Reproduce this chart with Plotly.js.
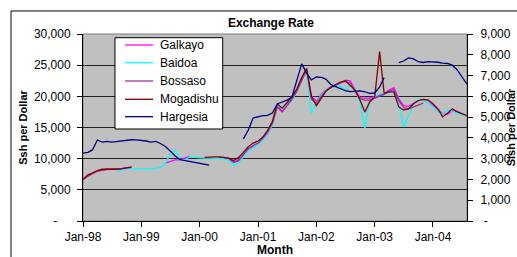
<!DOCTYPE html>
<html><head><meta charset="utf-8">
<script src="https://cdn.plot.ly/plotly-3.0.1.min.js"></script>
<style>html,body{margin:0;padding:0;background:#fff;overflow:hidden}#chart{width:517px;height:257px}</style>
</head><body><div id="chart"></div>
<script>
// month categories Jan-98 .. Aug-04
const months = [];
for (let i = 0; i < 80; i++) {
  const yr = 1998 + Math.floor(i / 12), mo = (i % 12) + 1;
  months.push(yr + '-' + String(mo).padStart(2, '0') + '-01');
}
const N = null;
const galkayo = [6800,7300,7700,8000,8200,8300,8300,8300,8400,8500,8600,
  N,N,N,N,N,N,
  9300,9600,9800,9800,10100,10400,
  N,N,N,N,N,
  10200,10200,10100,9500,9600,10500,11400,11900,12300,13100,14000,15500,18500,17600,18600,19600,21000,22800,24000,20000,19200,20300,21000,21500,21800,22100,22600,22500,21000,19800,19700,19700,20000,20200,20400,21000,21400,19600,18500,18400,18800,19300,19500,19400,18600,17800,17200,17100,17700,17600,17200,16800];
const baidoa = [N,N,N,N,N,N,N,
  7900,8200,8400,8400,8400,8400,8400,8400,8400,8600,9300,10700,11300,9800,9800,10300,10200,10100,10100,10100,10100,10100,10000,9700,9000,9300,10300,11300,11800,12300,13000,14000,15400,18500,18200,18500,19300,21000,22500,24200,17300,19000,20200,21000,21400,21400,21800,20800,22000,21000,19000,14900,19200,19900,20400,20500,20500,21000,18900,15100,17000,18600,19500,19300,18900,18300,17500,17100,17800,17600,17300,17000,16900];
const bossaso = [6700,7200,7600,8000,8200,8300,8300,8300,8400,8500,8600,
  N,N,N,N,N,N,N,N,N,N,N,N,N,N,N,N,N,
  10200,10200,10000,9400,9800,10700,11600,12100,12500,13300,14200,15700,18300,17500,18400,19500,20800,22500,24300,19500,18900,20000,20900,21500,21900,22200,22400,22100,20800,19600,19400,19400,19700,20000,20300,20800,21100,19300,18200,18000,18300,18700,18900,
  N,N,N,N,N,N,N,N,N];
const mogadishu = [6600,7400,7700,8100,8300,8300,8200,8300,8400,8500,8700,
  N,N,N,N,N,N,N,N,N,N,N,N,N,N,
  10200,10300,10300,10300,10200,10100,9700,10200,11000,11900,12500,12800,13500,14500,16000,18800,18100,18900,19900,21200,23000,24500,20000,18500,19800,20800,21400,21900,22300,22500,21800,21000,19400,17500,19100,19900,27200,20500,20700,20700,18300,17800,18000,18800,19300,19500,19400,18800,18000,16700,17300,18000,17500,17200,16900];
// Hargesia on the right axis (Slsh per Dollar)
const hargesia = [3270,3300,3420,3900,3800,3830,3800,3830,3850,3870,3910,3900,3890,3850,3800,3830,3730,3590,3370,3130,2950,2910,2860,2810,2780,2740,2690,
  N,N,N,N,N,N,
  3950,4380,4960,5030,5070,5080,5200,5630,5740,5820,5970,6780,7560,7120,6790,6930,6910,6830,6570,6470,6380,6270,6230,6230,6260,6220,6140,6160,6450,6900,
  N,N,
  7620,7700,7850,7800,7670,7630,7670,7670,7640,7600,7580,7500,7270,6930,6590];

const seriesNames = ['Galkayo','Baidoa','Bossaso','Mogadishu','Hargesia'];
const seriesColors = ['#FF00FF','#00FFFF','#993399','#800000','#000080'];
const seriesData = [galkayo, baidoa, bossaso, mogadishu, hargesia];

const leftTicks = [0,5000,10000,15000,20000,25000,30000];
const leftTickText = ['-\u00a0\u00a0\u00a0\u00a0','5,000','10,000','15,000','20,000','25,000','30,000'];
const rightTicks = [0,1000,2000,3000,4000,5000,6000,7000,8000,9000];
const rightTickText = ['\u00a0-','1,000','2,000','3,000','4,000','5,000','6,000','7,000','8,000','9,000'];
const yearTicks = ['1998-01-01','1999-01-01','2000-01-01','2001-01-01','2002-01-01','2003-01-01','2004-01-01'];
const yearLabels = ['Jan-98','Jan-99','Jan-00','Jan-01','Jan-02','Jan-03','Jan-04'];

const traces = seriesNames.map((n, i) => ({
  x: months, y: seriesData[i], type: 'scatter', mode: 'lines', name: n,
  yaxis: n === 'Hargesia' ? 'y2' : 'y', showlegend: false,
  line: {color: seriesColors[i], width: 1.3}, connectgaps: false
}));

// legend box (Excel-style), placed in paper coordinates
const legendRows = [0.9412, 0.8465, 0.7487, 0.6508, 0.5578];
const legendShapes = [{type: 'rect', xref: 'paper', yref: 'paper', x0: 0.0833, x1: 0.3638, y0: 0.492, y1: 0.9802,
  fillcolor: '#fff', line: {color: '#000', width: 1}, layer: 'above'}];
const legendTexts = [];
seriesNames.forEach((n, i) => {
  legendShapes.push({type: 'line', xref: 'paper', yref: 'paper', x0: 0.1094, x1: 0.1823, y0: legendRows[i], y1: legendRows[i],
    line: {color: seriesColors[i], width: 1.3}, layer: 'above'});
  legendTexts.push({text: n, xref: 'paper', yref: 'paper', x: 0.1953, y: legendRows[i], xanchor: 'left', yanchor: 'middle',
    showarrow: false, font: {size: 12}});
});

const FONT = 'Liberation Sans, Arial, sans-serif';
const layout = {
  width: 517, height: 257,
  margin: {l: 83, r: 50, t: 34, b: 36, pad: 0},
  paper_bgcolor: '#ffffff', plot_bgcolor: '#C0C0C0',
  font: {family: FONT, size: 12, color: '#000'},
  title: {text: '<b>Exchange Rate</b>', font: {size: 12, family: FONT}, x: 0.524, xanchor: 'center', y: 0.91, yanchor: 'middle'},
  showlegend: false,
  xaxis: {type: 'date', range: ['1998-01-01','2004-08-01'], tickvals: yearTicks, ticktext: yearLabels,
          ticks: 'outside', ticklen: 5, tickcolor: '#000', showline: true, linecolor: '#000', linewidth: 1,
          showgrid: false, zeroline: false, fixedrange: true,
          title: {text: '<b>Month</b>', font: {size: 12}, standoff: 4}},
  yaxis: {range: [0, 30000], tickvals: leftTicks, ticktext: leftTickText, ticks: 'outside', ticklen: 5, tickcolor: '#000',
          ticklabelstandoff: 4,
          showline: true, linecolor: '#000', linewidth: 1, showgrid: true, gridcolor: '#222', gridwidth: 1, zeroline: false,
          title: {text: '<b>Ssh per Dollar</b>', font: {size: 11}, standoff: 4}},
  yaxis2: {range: [0, 9000], overlaying: 'y', side: 'right', tickvals: rightTicks, ticktext: rightTickText,
           ticks: 'outside', ticklen: 5, tickcolor: '#000', showline: true, linecolor: '#000', linewidth: 1,
           ticklabelstandoff: 5,
           showgrid: false, zeroline: false,
           title: {text: '<b>Slsh per Dollar</b>', font: {size: 11}, standoff: 5}},
  shapes: [
    {type: 'rect', xref: 'paper', yref: 'paper', x0: 0, x1: 1, y0: 0, y1: 1, line: {color: '#808080', width: 1}, layer: 'below'},
    {type: 'rect', xref: 'paper', yref: 'paper', x0: -0.1875, x1: 1.4, y0: -0.5, y1: 1.123, line: {color: '#000', width: 1}}
  ].concat(legendShapes),
  annotations: [
    {text: '<b>Figure 5</b>', xref: 'paper', yref: 'paper', x: -0.163, y: 1.178, xanchor: 'left', yanchor: 'bottom',
     showarrow: false, font: {size: 12, family: FONT}}
  ].concat(legendTexts)
};
Plotly.newPlot('chart', traces, layout, {displayModeBar: false, staticPlot: true});
</script></body></html>
